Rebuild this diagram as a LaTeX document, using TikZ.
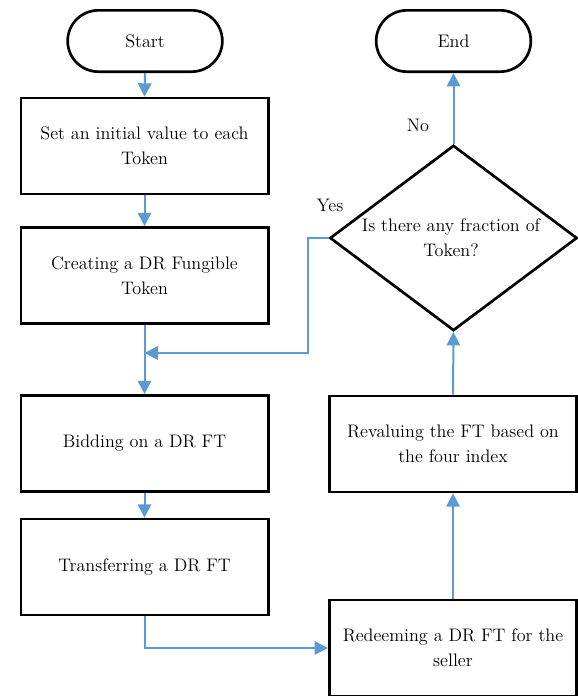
\documentclass[tikz,border=0pt]{standalone}
\usetikzlibrary{shapes.geometric,arrows.meta}
\definecolor{arrblue}{HTML}{5B9BD5}
\begin{document}
\begin{tikzpicture}[x=0.75pt,y=-0.75pt,
  every node/.style={font=\fontsize{13.6}{18.75}\selectfont},
  proc/.style={draw,line width=2pt,rectangle,minimum width=185.5pt,minimum height=72pt,align=center,inner sep=0pt},
  term/.style={draw,line width=2pt,rectangle,rounded corners=23pt,minimum width=116pt,minimum height=46pt,inner sep=0pt},
  dec/.style={draw,line width=2pt,diamond,minimum width=185.5pt,minimum height=139pt,inner sep=0pt},
  plain/.style={align=center,inner sep=0pt},
  arr/.style={draw=arrblue,line width=1.5pt,-{Triangle[width=10pt,length=10pt]}}
]
\useasboundingbox (0,0) rectangle (578,696);
\node[term] (start) at (145,41) {Start};
\node[proc] (b1) at (144.5,146) {Set an initial value to each\\Token};
\node[proc] (b2) at (144.5,275.5) {Creating a DR Fungible\\Token};
\node[proc] (b3) at (144.5,443.5) {Bidding on a DR FT};
\node[proc] (b4) at (144.5,567) {Transferring a DR FT};
\node[proc] (b5) at (453,648) {Redeeming a DR FT for the\\seller};
\node[proc] (b6) at (453,444) {Revaluing the FT based on\\the four index};
\node[dec] (dia) at (453.5,238) {};
\node[plain] (diatext) at (451,238) {Is there any fraction of\\Token?};
\node[term] (end) at (453.5,41) {End};
\node[plain] (no) at (418,125) {No};
\node[plain] (yes) at (330,205) {Yes};
\coordinate (m) at (144.5,353);
\coordinate (yx) at (308,353);
\draw[arr] (start.south) -- (b1.north);
\draw[arr] (b1.south) -- (b2.north);
\draw[arr] (b2.south) -- (b3.north);
\draw[arr] (b3.south) -- (b4.north);
\draw[arr] (b4.south) |- (b5.west);
\draw[arr] (b5.north) -- (b6.south);
\draw[arr] (b6.north) -- (dia.south);
\draw[arr] (dia.north) -- (end.south);
\draw[arr] (dia.west) -- (yx |- dia.west) -- (yx) -- (m);
\end{tikzpicture}
\end{document}
